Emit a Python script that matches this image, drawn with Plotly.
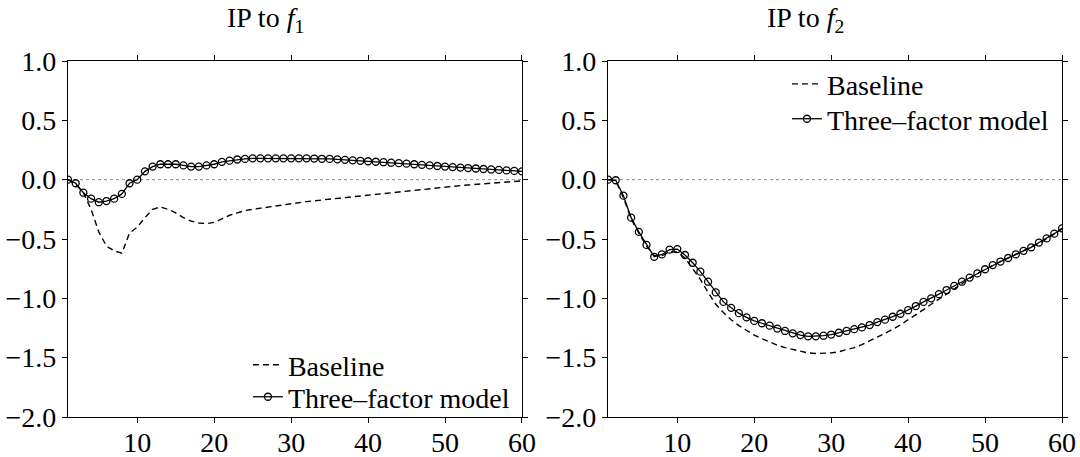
import plotly.graph_objects as go

t = list(range(1, 61))

# IP to f1
f1_baseline = [0.0, -0.04, -0.11, -0.25, -0.44, -0.56, -0.60, -0.62, -0.45, -0.40,
               -0.32, -0.25, -0.23, -0.25, -0.28, -0.32, -0.35, -0.365, -0.37, -0.36,
               -0.33, -0.30, -0.28, -0.26, -0.25, -0.24, -0.23, -0.225, -0.215, -0.205,
               -0.195, -0.185, -0.178, -0.171, -0.165, -0.158, -0.151, -0.144, -0.137, -0.13,
               -0.123, -0.116, -0.109, -0.102, -0.095, -0.088, -0.081, -0.074, -0.067, -0.06,
               -0.055, -0.050, -0.045, -0.040, -0.035, -0.030, -0.025, -0.020, -0.015, -0.01]
f1_three = [0.0, -0.03, -0.11, -0.16, -0.19, -0.18, -0.16, -0.12, -0.03, 0.0,
            0.07, 0.11, 0.13, 0.13, 0.13, 0.12, 0.11, 0.11, 0.12, 0.13,
            0.15, 0.16, 0.17, 0.175, 0.18, 0.18, 0.18, 0.18, 0.18, 0.18,
            0.18, 0.18, 0.178, 0.176, 0.175, 0.171, 0.167, 0.163, 0.159, 0.155,
            0.151, 0.147, 0.143, 0.139, 0.135, 0.13, 0.125, 0.12, 0.115, 0.11,
            0.106, 0.102, 0.098, 0.094, 0.09, 0.086, 0.082, 0.078, 0.074, 0.07]

# IP to f2
f2_baseline = [0.0, -0.01, -0.15, -0.33, -0.45, -0.56, -0.64, -0.64, -0.61, -0.61,
               -0.66, -0.75, -0.84, -0.95, -1.05, -1.12, -1.18, -1.23, -1.27, -1.31,
               -1.34, -1.37, -1.395, -1.415, -1.43, -1.445, -1.46, -1.465, -1.465, -1.46,
               -1.45, -1.435, -1.415, -1.39, -1.36, -1.33, -1.295, -1.26, -1.225, -1.18,
               -1.14, -1.095, -1.05, -1.01, -0.965, -0.92, -0.875, -0.83, -0.79, -0.755,
               -0.72, -0.69, -0.66, -0.63, -0.60, -0.57, -0.535, -0.50, -0.46, -0.415]
f2_three = [0.0, -0.005, -0.135, -0.32, -0.44, -0.55, -0.65, -0.63, -0.59, -0.585,
            -0.635, -0.70, -0.775, -0.86, -0.95, -1.03, -1.08, -1.125, -1.16, -1.19,
            -1.21, -1.23, -1.255, -1.275, -1.295, -1.31, -1.32, -1.32, -1.315, -1.305,
            -1.29, -1.275, -1.26, -1.245, -1.225, -1.20, -1.18, -1.155, -1.13, -1.10,
            -1.065, -1.03, -1.0, -0.965, -0.93, -0.895, -0.86, -0.825, -0.79, -0.755,
            -0.72, -0.69, -0.66, -0.63, -0.60, -0.57, -0.53, -0.495, -0.455, -0.41]

zero = [0.0] * len(t)

xticks = [10, 20, 30, 40, 50, 60]
xticktext = ["10", "20", "30", "40", "50", "60"]
yticks = [1.0, 0.5, 0.0, -0.5, -1.0, -1.5, -2.0]
yticktext = ["1.0", "0.5", "0.0", "\u22120.5", "\u22121.0", "\u22121.5", "\u22122.0"]

FONT = "Liberation Serif"
FS = 28

fig = go.Figure()

def add_panel(xa, ya, base, three, leg_base, leg_three):
    fig.add_trace(go.Scatter(x=t, y=zero, mode="lines", xaxis=xa, yaxis=ya,
                             line=dict(color="#888888", width=1, dash="dot"),
                             showlegend=False, hoverinfo="skip"))
    fig.add_trace(go.Scatter(x=t, y=base, mode="lines", name="Baseline",
                             xaxis=xa, yaxis=ya, legend=leg_base,
                             line=dict(color="black", width=1.4, dash="6px,4px")))
    fig.add_trace(go.Scatter(x=t, y=three, mode="lines+markers", name="Three\u2013factor model",
                             xaxis=xa, yaxis=ya, legend=leg_three,
                             line=dict(color="black", width=1.3),
                             marker=dict(symbol="circle-open", size=7, color="black",
                                         line=dict(width=1.3, color="black"))))

add_panel("x", "y", f1_baseline, f1_three, "legend", "legend2")
add_panel("x2", "y2", f2_baseline, f2_three, "legend3", "legend4")

axis_common = dict(showline=True, linecolor="black", linewidth=1.3, mirror="ticks",
                   ticks="outside", ticklen=5, tickwidth=1, tickcolor="black",
                   showgrid=False, zeroline=False, automargin=False,
                   tickfont=dict(family=FONT, size=FS, color="black"))
xaxis_extra = dict(ticklabelstandoff=-5)

def leg(x, y):
    return dict(x=x, y=y, xanchor="left", yanchor="middle",
                bgcolor="rgba(0,0,0,0)", font=dict(family=FONT, size=FS, color="black"),
                itemwidth=30)

fig.update_layout(
    width=1080, height=457,
    margin=dict(l=68, r=18, t=61, b=40),
    plot_bgcolor="white", paper_bgcolor="white",
    xaxis=dict(domain=[0, 0.4567], range=[1, 60], tickvals=xticks, ticktext=xticktext,
               anchor="y", **axis_common, **xaxis_extra),
    yaxis=dict(domain=[0, 1], range=[-2, 1], tickvals=yticks, ticktext=yticktext,
               anchor="x", **axis_common),
    xaxis2=dict(domain=[0.5433, 1], range=[1, 60], tickvals=xticks, ticktext=xticktext,
                anchor="y2", **axis_common, **xaxis_extra),
    yaxis2=dict(domain=[0, 1], range=[-2, 1], tickvals=yticks, ticktext=yticktext,
                anchor="x2", **axis_common),
    legend=leg(0.181, 0.146),
    legend2=leg(0.181, 0.056),
    legend3=leg(0.7233, 0.935),
    legend4=leg(0.7233, 0.837),
    showlegend=True,
    annotations=[
        dict(text="IP to <i>f</i><sub>1</sub>", x=(265 - 68) / 994, y=1.0 + 41 / 356,
             xref="paper", yref="paper", xanchor="center", yanchor="middle",
             showarrow=False, font=dict(family=FONT, size=FS, color="black")),
        dict(text="IP to <i>f</i><sub>2</sub>", x=(805 - 68) / 994, y=1.0 + 41 / 356,
             xref="paper", yref="paper", xanchor="center", yanchor="middle",
             showarrow=False, font=dict(family=FONT, size=FS, color="black")),
    ],
)

fig.write_html("out.html", config={"displayModeBar": False},
               post_script="document.body.style.margin='0px';")
